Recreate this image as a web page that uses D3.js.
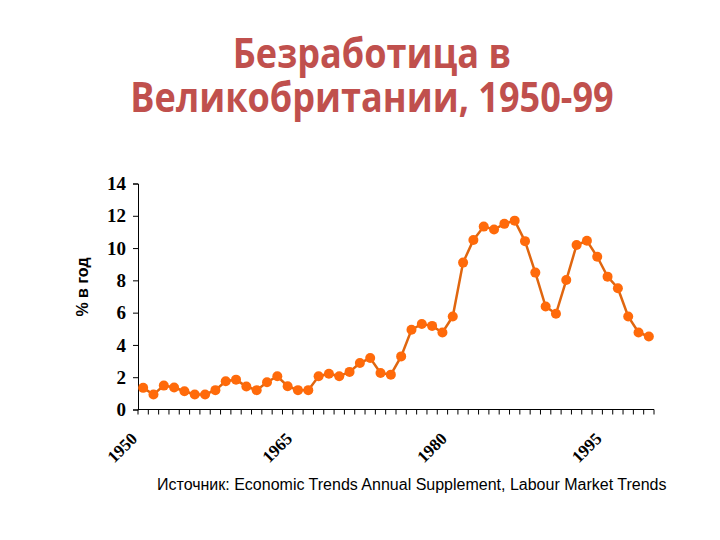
<!DOCTYPE html>
<html>
<head>
<meta charset="utf-8">
<script src="https://cdn.jsdelivr.net/npm/d3@7"></script>
<style>
  body { margin: 0; background: #fff; }
</style>
</head>
<body>
<script>
const width = 720,
    height = 540

// годы и уровень безработицы, % (по картинке)
const years = d3.range(1950, 2000)
const rates = [
    1.34, 0.93, 1.48, 1.36, 1.13, 0.93, 0.93, 1.2, 1.75, 1.85,
    1.42, 1.2, 1.69, 2.06, 1.44, 1.2, 1.2, 2.06, 2.22, 2.06,
    2.33, 2.88, 3.19, 2.26, 2.16, 3.29, 4.94, 5.3, 5.18, 4.77,
    5.76, 9.1, 10.5, 11.33, 11.15, 11.5, 11.7, 10.43, 8.48, 6.38,
    5.93, 8.02, 10.19, 10.45, 9.46, 8.23, 7.51, 5.76, 4.77, 4.52
]
const yTicks = [0, 2, 4, 6, 8, 10, 12, 14]
const xLabels = [1950, 1965, 1980, 1995]

const data = years.map((y, i) => ({ year: y, rate: rates[i] }))

const svg = d3.select("body")
    .append("svg")
    .attr("width", width)
    .attr("height", height)

const plotLeft = 138, plotRight = 654, plotTop = 183.5, plotBottom = 409.5

const x = d3.scaleBand()
    .domain(years)
    .range([plotLeft, plotRight])

const y = d3.scaleLinear()
    .domain([0, 14])
    .range([plotBottom, plotTop])

// заголовок (чуть сжат по ширине, как Calibri)
const titleLines = ["Безработица в", "Великобритании, 1950-99"]
svg.append("g")
    .attr("transform", "translate(372,0) scale(0.88,1)")
    .selectAll("text")
    .data(titleLines)
    .join("text")
    .attr("x", 0)
    .attr("y", (d, i) => 68 + i * 44)
    .attr("text-anchor", "middle")
    .attr("fill", "#C0504D")
    .style("font-family", "'Open Sans', sans-serif")
    .style("font-weight", "bold")
    .style("font-size", "41px")
    .text(d => d)

// ось Y
const yAxis = svg.append("g")
    .attr("transform", `translate(${plotLeft},0)`)
    .call(d3.axisLeft(y).tickValues(yTicks).tickSize(5).tickPadding(7))
yAxis.select(".domain").attr("stroke", "#000")
yAxis.selectAll("text")
    .style("font-family", "'Liberation Serif', 'Times New Roman', serif")
    .style("font-weight", "bold")
    .style("font-size", "19px")
    .attr("fill", "#000")

// ось X: деления по границам категорий
const xAxisG = svg.append("g")
xAxisG.append("line")
    .attr("x1", plotLeft).attr("x2", plotRight)
    .attr("y1", plotBottom).attr("y2", plotBottom)
    .attr("stroke", "#000")
xAxisG.selectAll("line.tick")
    .data(years.concat([2000]))
    .join("line")
    .attr("class", "tick")
    .attr("x1", d => d === 2000 ? plotRight : x(d))
    .attr("x2", d => d === 2000 ? plotRight : x(d))
    .attr("y1", plotBottom).attr("y2", plotBottom + 5)
    .attr("stroke", "#000")

xAxisG.selectAll("text")
    .data(xLabels)
    .join("text")
    .attr("transform", d => `translate(${x(d) + x.bandwidth() / 2 - 9},${plotBottom + 26}) rotate(-45)`)
    .attr("text-anchor", "end")
    .attr("dy", "0.35em")
    .style("font-family", "'Liberation Serif', 'Times New Roman', serif")
    .style("font-weight", "bold")
    .style("font-size", "17px")
    .text(d => d)

// подпись оси Y
svg.append("text")
    .attr("transform", "translate(88,287) rotate(-90)")
    .attr("text-anchor", "middle")
    .style("font-family", "'Liberation Sans', Arial, sans-serif")
    .style("font-weight", "bold")
    .style("font-size", "16px")
    .text("% в год")

// линия
const line = d3.line()
    .x(d => x(d.year) + x.bandwidth() / 2)
    .y(d => y(d.rate))

svg.append("path")
    .datum(data)
    .attr("d", line)
    .attr("fill", "none")
    .attr("stroke", "#E0660F")
    .attr("stroke-width", 2.5)

svg.selectAll("circle")
    .data(data)
    .join("circle")
    .attr("cx", d => x(d.year) + x.bandwidth() / 2)
    .attr("cy", d => y(d.rate))
    .attr("r", 5)
    .attr("fill", "#FF6A0A")

// источник
svg.append("text")
    .attr("x", 157)
    .attr("y", 490)
    .style("font-family", "'Liberation Sans', Arial, sans-serif")
    .style("font-size", "16px")
    .text("Источник: Economic Trends Annual Supplement, Labour Market Trends")
</script>
</body>
</html>
